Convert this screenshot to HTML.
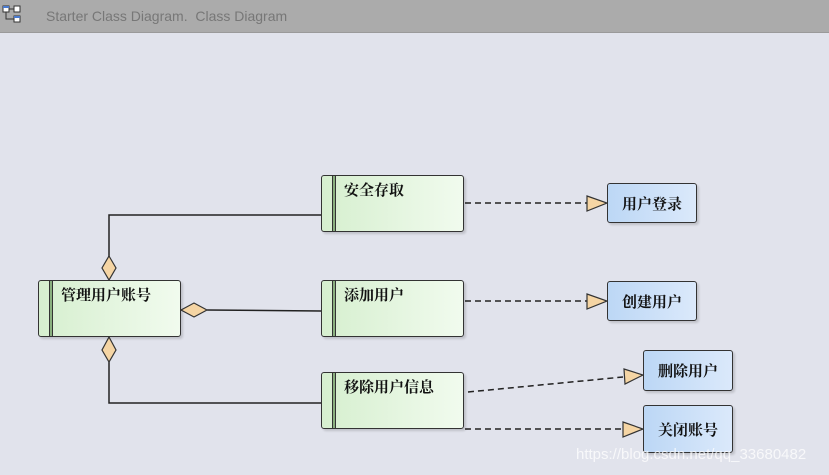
<!DOCTYPE html>
<html><head><meta charset="utf-8"><style>
body{margin:0;width:829px;height:475px;background:#e1e3ec;position:relative;overflow:hidden;font-family:"Liberation Sans","Noto Serif CJK SC",serif}
.hdr{position:absolute;left:0;top:0;width:829px;height:32px;background:#ababab;border-bottom:1px solid #9a9a9a}
.hdr span{position:absolute;left:46px;top:8px;font:14px "Liberation Sans",sans-serif;color:#777}
.g{position:absolute;box-sizing:border-box;border:1.5px solid #333;border-radius:3px;background:linear-gradient(90deg,#d6efcf,#f1fbee);box-shadow:2px 2px 2px rgba(0,0,0,.15)}
.g:before{content:"";position:absolute;left:10px;top:0;bottom:0;width:4px;border-left:1px solid #333;border-right:1.5px solid #333;box-sizing:border-box;background:#8ab07f}
.g div{position:absolute;left:22px;top:3px;font-size:15px;font-weight:bold;color:#111;font-family:"Noto Serif CJK SC",serif}
.b{position:absolute;box-sizing:border-box;border:1.5px solid #333;border-radius:3px;background:linear-gradient(90deg,#bcd7f5,#dbe9fb);box-shadow:2px 2px 2px rgba(0,0,0,.15);display:flex;align-items:center;justify-content:center;font-size:15px;font-weight:bold;color:#111;font-family:"Noto Serif CJK SC",serif}
</style></head><body>
<div class="hdr"><svg width="22" height="20" style="position:absolute;left:2px;top:5px"><rect x="1" y="1" width="6" height="6" fill="#fff" stroke="#333"/><rect x="1" y="1" width="6" height="2" fill="#4a7bd0"/><rect x="12" y="1" width="6" height="6" fill="#fff" stroke="#333"/><rect x="12" y="11" width="6" height="6" fill="#fff" stroke="#333"/><rect x="12" y="11" width="6" height="2" fill="#4a7bd0"/><path d="M7 4H12M4 7V14H12" stroke="#333" fill="none"/></svg><span>Starter Class Diagram.&nbsp; Class Diagram</span></div>
<svg width="829" height="475" style="position:absolute;left:0;top:0">
<g stroke="#222" stroke-width="1.5" fill="none">
<path d="M109 257V215H321"/><path d="M109 362V403H321"/><path d="M207 310L321 311"/>
</g>
<g stroke="#222" stroke-width="1.5" stroke-dasharray="6,4" fill="none">
<path d="M465 203H587"/><path d="M465 301H587"/><path d="M468 392L623 377"/><path d="M465 429H623"/>
</g>
<g fill="#f5d5a4" stroke="#333" stroke-width="1.2">
<path d="M109 256L116 268L109 280L102 268Z"/><path d="M109 337L116 350L109 362L102 350Z"/><path d="M181 310L194 303L207 310L194 317Z"/>
<path d="M587 196L607 203L587 211Z"/><path d="M587 294L607 301L587 309Z"/><path d="M624 369L643 375L625 384Z"/><path d="M623 422L643 429L623 437Z"/>
</g>
</svg>
<div class="g" style="left:38px;top:280px;width:143px;height:57px"><div>管理用户账号</div></div>
<div class="g" style="left:321px;top:175px;width:143px;height:57px"><div>安全存取</div></div>
<div class="g" style="left:321px;top:280px;width:143px;height:57px"><div>添加用户</div></div>
<div class="g" style="left:321px;top:372px;width:143px;height:57px"><div>移除用户信息</div></div>
<div class="b" style="left:607px;top:183px;width:90px;height:40px">用户登录</div>
<div class="b" style="left:607px;top:281px;width:90px;height:40px">创建用户</div>
<div class="b" style="left:643px;top:350px;width:90px;height:41px">删除用户</div>
<div class="b" style="left:643px;top:405px;width:90px;height:48px">关闭账号</div>
<div style="position:absolute;left:576px;top:446px;font:15px 'Liberation Sans',sans-serif;color:rgba(255,255,255,.75)">https://blog.csdn.net/qq_33680482</div>
</body></html>
